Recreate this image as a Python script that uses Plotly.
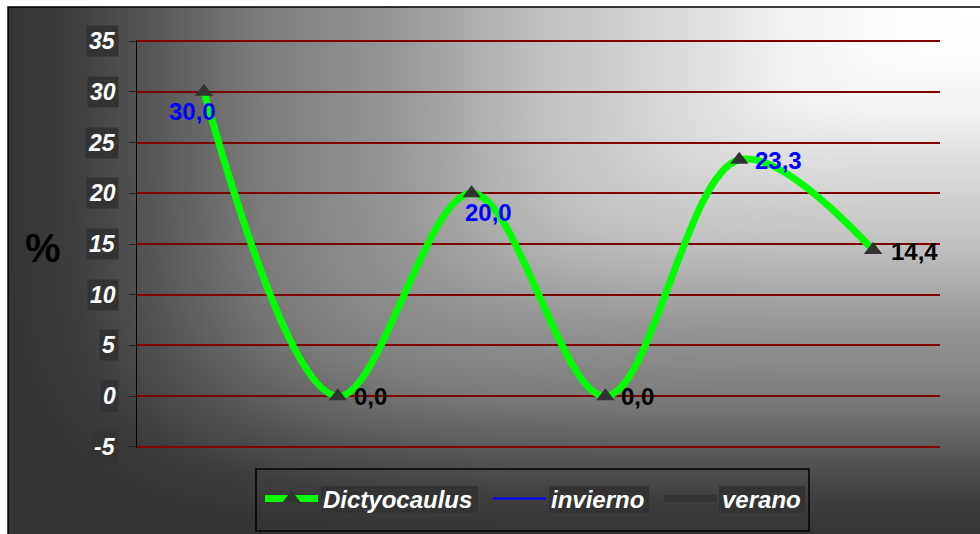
import base64
import struct
import zlib

import numpy as np
import plotly.graph_objects as go

# ---- data -------------------------------------------------------------
categories = ["1", "2", "3", "4", "5", "6"]
dictyocaulus = [30.0, 0.0, 20.0, 0.0, 23.3, 14.4]
label_colors = ["#0000FF", "#000000", "#0000FF", "#000000", "#0000FF", "#000000"]
y_ticks = [-5, 0, 5, 10, 15, 20, 25, 30, 35]
series_names = ["Dictyocaulus", "invierno", "verano"]

# ---- geometry ---------------------------------------------------------
W, H = 980, 534
M_L, M_R, M_T, M_B = 137, 40, 40, 86
PLOT_W = W - M_L - M_R
PLOT_H = H - M_T - M_B
Y_RANGE = [-5.1, 35.1]


def px_x(px):
    return (px - M_L) / PLOT_W


def px_y(py):
    return (H - M_B - py) / PLOT_H


# ---- gradient backdrop (light in the upper right corner) --------------
FRAME_X, FRAME_Y = 8, 7
img_w, img_h = W - FRAME_X, H - FRAME_Y
xs = np.arange(img_w) + FRAME_X
ys = np.arange(img_h) + FRAME_Y
gx, gy = np.meshgrid(xs, ys)
dx = np.clip((975 - gx) / 967.0, 0, None)
dy = np.clip((gy - 7) / 527.0, 0, None)
p = 6.0
d = np.clip((dx ** p + dy ** p) ** (1 / p), 0, 1)
stops_d = [0.0, 0.1, 0.2, 0.29, 0.46, 0.595, 0.74, 0.853, 0.935, 1.0]
stops_v = [255, 252, 241, 222, 190, 152, 124, 86, 62, 52]
gray = np.interp(d, stops_d, stops_v).round().astype(np.uint8)


def png_gray(arr):
    h, w = arr.shape
    raw = b"".join(b"\x00" + arr[i].tobytes() for i in range(h))

    def chunk(tag, data):
        body = tag + data
        return struct.pack(">I", len(data)) + body + struct.pack(">I", zlib.crc32(body) & 0xFFFFFFFF)

    return (b"\x89PNG\r\n\x1a\n"
            + chunk(b"IHDR", struct.pack(">IIBBBBB", w, h, 8, 0, 0, 0, 0))
            + chunk(b"IDAT", zlib.compress(raw, 9))
            + chunk(b"IEND", b""))


bg_src = "data:image/png;base64," + base64.b64encode(png_gray(gray)).decode()

FONT = "Liberation Sans, Arial, sans-serif"
LEGEND_FONT = dict(family=FONT, size=24, color="white", weight="bold", style="italic")

fig = go.Figure()

fig.add_trace(go.Scatter(
    x=categories, y=dictyocaulus, name=series_names[0],
    mode="lines+markers",
    line=dict(color="#00FF00", width=7, shape="spline", smoothing=1),
    marker=dict(symbol="triangle-up", size=16, color="#333333"),
    cliponaxis=False, hoverinfo="skip", legend="legend",
))
fig.add_trace(go.Scatter(
    x=[None], y=[None], name=series_names[1], mode="lines",
    line=dict(color="#0000FF", width=2), legend="legend2",
))
fig.add_trace(go.Scatter(
    x=[None], y=[None], name=series_names[2], mode="lines",
    line=dict(color="#333333", width=7), legend="legend3",
))

# value labels next to each point
label_place = [
    dict(xanchor="right", xshift=14, yshift=-20),
    dict(xanchor="left", xshift=14, yshift=0),
    dict(xanchor="center", xshift=17, yshift=-19),
    dict(xanchor="left", xshift=14, yshift=0),
    dict(xanchor="left", xshift=14, yshift=-1),
    dict(xanchor="left", xshift=16, yshift=-1),
]
for i, (val, col, plc) in enumerate(zip(dictyocaulus, label_colors, label_place)):
    fig.add_annotation(
        x=i, y=val, xref="x", yref="y",
        text=f"{val:.1f}".replace(".", ","),
        showarrow=False, yanchor="middle",
        font=dict(family=FONT, size=24, color=col, weight="bold"),
        **plc,
    )

# y tick labels on dark boxes
for t in y_ticks:
    fig.add_annotation(
        x=px_x(119), y=t, xref="paper", yref="y",
        text=str(t), showarrow=False,
        xanchor="right", yanchor="middle",
        bgcolor="#333333", borderpad=2,
        font=dict(family=FONT, size=23, color="white", weight="bold", style="italic"),
    )

# axis title
fig.add_annotation(
    x=px_x(43), y=14.6, xref="paper", yref="y",
    text="%", showarrow=False, xanchor="center", yanchor="middle",
    font=dict(family=FONT, size=40, color="black", weight="bold"),
)

shapes = [
    # outer frame
    dict(type="rect", xref="paper", yref="paper",
         x0=px_x(FRAME_X), x1=px_x(W + 10), y0=px_y(H + 10), y1=px_y(FRAME_Y),
         line=dict(color="black", width=1.5), fillcolor="rgba(0,0,0,0)", layer="above"),
    # legend frame
    dict(type="rect", xref="paper", yref="paper",
         x0=px_x(256), x1=px_x(809), y0=px_y(531), y1=px_y(469),
         line=dict(color="black", width=1.5), fillcolor="rgba(0,0,0,0)", layer="above"),
]
# dark plates behind legend texts
for x0, x1 in [(321, 478), (549, 649), (719, 805)]:
    shapes.append(dict(type="rect", xref="paper", yref="paper",
                       x0=px_x(x0), x1=px_x(x1), y0=px_y(513), y1=px_y(486),
                       line=dict(width=0), fillcolor="#333333", layer="above"))


def legend_at(px):
    return dict(
        orientation="h", x=px_x(px), xanchor="left",
        y=px_y(499), yanchor="middle",
        bgcolor="rgba(0,0,0,0)", borderwidth=0,
        itemwidth=53, font=LEGEND_FONT,
    )


fig.update_layout(
    width=W, height=H, autosize=False,
    margin=dict(l=M_L, r=M_R, t=M_T, b=M_B, pad=0),
    paper_bgcolor="white", plot_bgcolor="rgba(0,0,0,0)",
    images=[dict(source=bg_src, xref="paper", yref="paper",
                 x=px_x(FRAME_X), y=px_y(FRAME_Y),
                 sizex=img_w / PLOT_W, sizey=img_h / PLOT_H,
                 xanchor="left", yanchor="top", sizing="stretch", layer="below")],
    shapes=shapes,
    showlegend=True,
    legend=legend_at(260),
    legend2=legend_at(488),
    legend3=legend_at(659),
    xaxis=dict(range=[-0.5, 5.5], showgrid=False, zeroline=False, showline=False,
               showticklabels=False, ticks=""),
    yaxis=dict(range=Y_RANGE, tickvals=y_ticks, showgrid=True, gridcolor="#800000",
               gridwidth=2, zeroline=False, showline=True, linecolor="black",
               linewidth=1, ticks="outside", ticklen=7, tickcolor="#222222",
               showticklabels=False),
)

fig.write_html("out.html")
